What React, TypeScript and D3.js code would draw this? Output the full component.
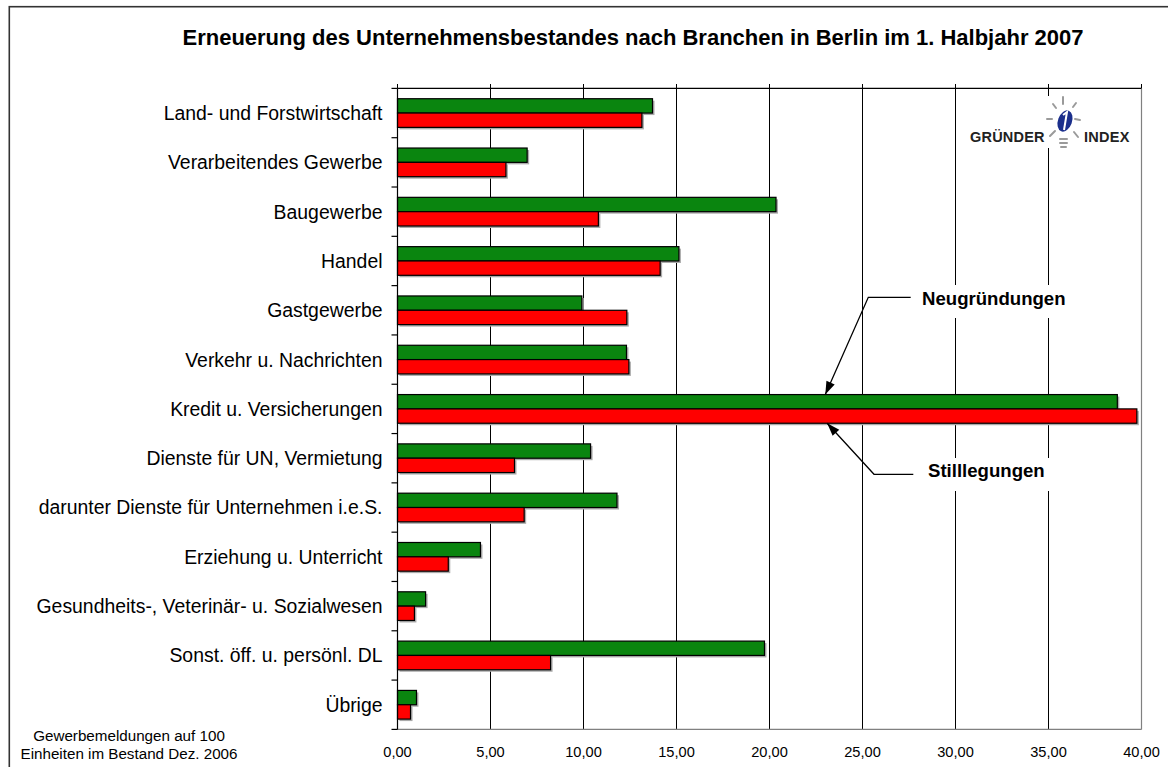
import React from "react";
import * as d3 from "d3";

// Branchen (top to bottom)
const categories = [
  "Land- und Forstwirtschaft",
  "Verarbeitendes Gewerbe",
  "Baugewerbe",
  "Handel",
  "Gastgewerbe",
  "Verkehr u. Nachrichten",
  "Kredit u. Versicherungen",
  "Dienste für UN, Vermietung",
  "darunter Dienste für Unternehmen i.e.S.",
  "Erziehung u. Unterricht",
  "Gesundheits-, Veterinär- u. Sozialwesen",
  "Sonst. öff. u. persönl. DL",
  "Übrige",
];

// Gewerbemeldungen auf 100 Einheiten im Bestand
const neugruendungen = [13.71, 6.97, 20.35, 15.13, 9.91, 12.31, 38.7, 10.38, 11.8, 4.46, 1.51, 19.73, 1.02];
const stilllegungen = [13.14, 5.83, 10.8, 14.12, 12.33, 12.44, 39.75, 6.29, 6.81, 2.73, 0.91, 8.23, 0.7];

const xTicks = [0, 5, 10, 15, 20, 25, 30, 35, 40];
const seriesKeys = ["neu", "still"];

const FONT = "'Liberation Sans', Arial, Helvetica, sans-serif";
const GREEN = "#0a850f";
const RED = "#ff0000";

const fmt = d3.formatLocale({ decimal: ",", thousands: ".", grouping: [3], currency: ["", "€"] }).format(".2f");

export default function App() {
  const width = 1168;
  const height = 767;
  const plot = { left: 397.5, right: 1141.5, top: 88.4, bottom: 729.4 };

  const x = d3.scaleLinear().domain([0, 40]).range([plot.left, plot.right]);
  const y = d3.scaleBand<string>().domain(categories).range([plot.top, plot.bottom]);
  const inner = d3
    .scaleBand<string>()
    .domain(seriesKeys)
    .range([0, y.bandwidth()])
    .paddingInner(0)
    .paddingOuter(0.72);

  const rows = categories.map((c, i) => ({ c, neu: neugruendungen[i], still: stilllegungen[i] }));
  const bounds = [...categories.map((c) => y(c) as number), plot.bottom];

  const kredit = (y(categories[6]) as number);
  const neuTip: [number, number] = [x(23.0), kredit + inner("neu")!];
  const stillTip: [number, number] = [x(23.1), kredit + inner("still")! + inner.bandwidth()];

  const arrowHead = (from: [number, number], to: [number, number]) => {
    const a = Math.atan2(to[1] - from[1], to[0] - from[0]);
    const len = 13;
    const w = 4.5;
    const bx = to[0] - len * Math.cos(a);
    const by = to[1] - len * Math.sin(a);
    return `M${to[0]},${to[1]}L${bx + w * Math.sin(a)},${by - w * Math.cos(a)}L${bx - w * Math.sin(a)},${by + w * Math.cos(a)}Z`;
  };

  const neuElbow: [number, number] = [868.3, 297.3];
  const stillElbow: [number, number] = [874, 474.3];

  return (
    <svg
      width={width}
      height={height}
      style={{ position: "absolute", left: 0, top: 0, background: "#fff" }}
      fontFamily={FONT}
    >
      {/* outer frame */}
      <rect x={9.3} y={6.7} width={1200} height={800} fill="#fff" stroke="#333" strokeWidth={1.6} />

      <text x={633} y={45} textAnchor="middle" fontWeight="bold" fontSize={22} fill="#000">
        Erneuerung des Unternehmensbestandes nach Branchen in Berlin im 1. Halbjahr 2007
      </text>

      {/* grid */}
      {xTicks.slice(1, -1).map((t) => (
        <line key={t} x1={x(t)} x2={x(t)} y1={84} y2={plot.bottom} stroke="#000" strokeWidth={1} />
      ))}
      {xTicks.map((t) => (
        <line key={"tt" + t} x1={x(t)} x2={x(t)} y1={84} y2={plot.top} stroke="#000" strokeWidth={1} />
      ))}
      <line x1={plot.right} x2={plot.right} y1={plot.top} y2={plot.bottom} stroke="#808080" strokeWidth={1.2} />
      <line x1={plot.left} x2={plot.right} y1={plot.bottom} y2={plot.bottom} stroke="#808080" strokeWidth={1.2} />
      <line x1={plot.left} x2={plot.right} y1={plot.top} y2={plot.top} stroke="#000" strokeWidth={1.2} />

      {/* white boxes behind logo and annotations */}
      <rect x={962} y={96} width={175} height={52} fill="#fff" />
      <rect x={912} y={285} width={162} height={33} fill="#fff" />
      <rect x={918} y={458} width={136} height={33} fill="#fff" />

      {/* bars */}
      {rows.map((r) => (
        <g key={r.c} transform={`translate(0,${y(r.c)})`}>
          {seriesKeys.map((k) => (
            <rect
              key={"s" + k}
              x={x(0) + 2}
              y={inner(k)! + 2}
              width={x((r as any)[k]) - x(0)}
              height={inner.bandwidth()}
              fill="#aaa"
            />
          ))}
          {seriesKeys.map((k) => (
            <rect
              key={k}
              x={x(0)}
              y={inner(k)!}
              width={x((r as any)[k]) - x(0)}
              height={inner.bandwidth()}
              fill={k === "neu" ? GREEN : RED}
              stroke="#000"
              strokeWidth={1.2}
            />
          ))}
        </g>
      ))}

      {/* left axis */}
      <line x1={plot.left} x2={plot.left} y1={plot.top} y2={plot.bottom} stroke="#000" strokeWidth={1.2} />
      {bounds.map((b, i) => (
        <line key={i} x1={plot.left - 6} x2={plot.left} y1={b} y2={b} stroke="#000" strokeWidth={1.2} />
      ))}

      {categories.map((c) => (
        <text
          key={c}
          x={382.5}
          y={(y(c) as number) + y.bandwidth() / 2}
          dy="0.36em"
          textAnchor="end"
          fontSize={19.4}
          fill="#000"
        >
          {c}
        </text>
      ))}

      {xTicks.map((t) => (
        <text key={"l" + t} x={x(t)} y={757} textAnchor="middle" fontSize={14.6} fill="#000">
          {fmt(t)}
        </text>
      ))}

      <text x={129} y={741} textAnchor="middle" fontSize={15.2} fill="#000">
        Gewerbemeldungen auf 100
      </text>
      <text x={129} y={759} textAnchor="middle" fontSize={15.2} fill="#000">
        Einheiten im Bestand Dez. 2006
      </text>

      {/* annotations */}
      <path
        d={`M910.7,297.3L${neuElbow[0]},${neuElbow[1]}L${neuTip[0]},${neuTip[1]}`}
        fill="none"
        stroke="#000"
        strokeWidth={1.3}
      />
      <path d={arrowHead(neuElbow, neuTip)} fill="#000" />
      <text x={922} y={305} fontWeight="bold" fontSize={18.6} fill="#000">
        Neugründungen
      </text>

      <path
        d={`M913.3,474.3L${stillElbow[0]},${stillElbow[1]}L${stillTip[0]},${stillTip[1]}`}
        fill="none"
        stroke="#000"
        strokeWidth={1.3}
      />
      <path d={arrowHead(stillElbow, stillTip)} fill="#000" />
      <text x={928} y={477.3} fontWeight="bold" fontSize={18.6} fill="#000">
        Stilllegungen
      </text>

      {/* Gründer-Index logo */}
      <g>
        <text x={970} y={141.5} fontWeight="bold" fontSize={14.5} fill="#222" letterSpacing={0.2}>
          GRÜNDER
        </text>
        <text x={1084} y={141.5} fontWeight="bold" fontSize={14.5} fill="#222" letterSpacing={0.3}>
          INDEX
        </text>
        <g stroke="#9a9a9a" strokeWidth={2} strokeLinecap="round">
          <line x1={1063} y1={97} x2={1063} y2={104} />
          <line x1={1053} y1={104} x2={1056} y2={108} />
          <line x1={1076} y1={103} x2={1073} y2={107} />
          <line x1={1047} y1={119} x2={1052} y2={119} />
          <line x1={1075} y1={119} x2={1080} y2={120} />
          <line x1={1050} y1={136} x2={1055} y2={131} />
          <line x1={1078} y1={137} x2={1074} y2={132} />
          <line x1={1060} y1={139} x2={1067} y2={139} />
          <line x1={1060} y1={143} x2={1067} y2={143} />
          <line x1={1061} y1={147} x2={1066} y2={147} />
        </g>
        <ellipse cx={1065} cy={121} rx={7} ry={11} transform="rotate(20 1065 121)" fill="#1b2f8c" />
        <path d="M1063,115 L1067,112 L1064,130" fill="none" stroke="#fff" strokeWidth={2} />
      </g>
    </svg>
  );
}
